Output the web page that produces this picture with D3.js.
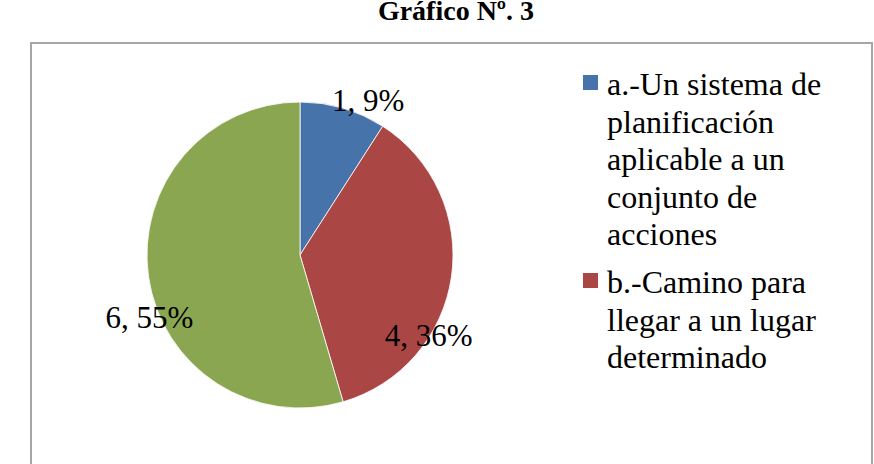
<!DOCTYPE html>
<html>
<head>
<meta charset="utf-8">
<script src="https://cdn.jsdelivr.net/npm/d3@7"></script>
<style>
  html, body { margin: 0; padding: 0; background: #fff; }
  svg { display: block; }
</style>
</head>
<body>
<div id="chart"></div>
<script>
// chart data
const title = 'Gráfico Nº. 3';
const categories = ['a', 'b', 'c'];
const counts = [1, 4, 6];
const percents = ['9%', '36%', '55%'];
// legend text, already wrapped as in the original (third entry does not fit)
const legendLines = [
    ['a.-Un sistema de', 'planificación', 'aplicable a un', 'conjunto de', 'acciones'],
    ['b.-Camino para', 'llegar a un lugar', 'determinado']
];

const colors = ['#4674aa', '#aa4644', '#8ba650'];
// label nudges from the slice centroid (best fit placement)
const labelNudge = [[23, 10], [0, 72], [-22, 54]];

const font = "'Liberation Serif', 'Times New Roman', Times, 'DejaVu Serif', serif";
const width = 874, height = 464;
const cx = 300, cy = 255, radius = 153;

const svg = d3.select('#chart').append('svg')
    .attr('width', width)
    .attr('height', height)
    .attr('font-family', font);

svg.append('text')
    .attr('x', 456)
    .attr('y', 20)
    .attr('text-anchor', 'middle')
    .attr('font-family', font)
    .attr('font-weight', 'bold')
    .attr('font-size', 28)
    .attr('fill', '#000')
    .text(title);

// chart area border
svg.append('rect')
    .attr('x', 31)
    .attr('y', 43)
    .attr('width', 841)
    .attr('height', 440)
    .attr('fill', 'none')
    .attr('stroke', '#a6a6a6')
    .attr('stroke-width', 2);

const pie = d3.pie().sort(null).value(d => d.value);
const data = categories.map((c, i) => ({ cat: c, value: counts[i], pct: percents[i], i }));
const arcs = pie(data);

const arc = d3.arc().innerRadius(0).outerRadius(radius);
const labelArc = d3.arc().innerRadius(radius * 0.85).outerRadius(radius * 0.85);
// the blue label sits outside the pie, so use a larger radius for it
const outerLabelArc = d3.arc().innerRadius(radius + 7).outerRadius(radius + 7);

const g = svg.append('g').attr('transform', `translate(${cx}, ${cy})`);

g.selectAll('path.slice')
    .data(arcs)
    .enter().append('path')
    .attr('class', 'slice')
    .attr('d', arc)
    .attr('fill', d => colors[d.data.i])
    .attr('stroke', '#fff')
    .attr('stroke-width', 0.8);

g.selectAll('text.lbl')
    .data(arcs)
    .enter().append('text')
    .attr('class', 'lbl')
    .attr('x', d => (d.data.i === 0 ? outerLabelArc : labelArc).centroid(d)[0] + labelNudge[d.data.i][0])
    .attr('y', d => (d.data.i === 0 ? outerLabelArc : labelArc).centroid(d)[1] + labelNudge[d.data.i][1])
    .attr('text-anchor', 'middle')
    .attr('font-family', font)
    .attr('font-size', 31)
    .attr('fill', '#000')
    .text(d => `${d.data.value}, ${d.data.pct}`);

// legend
const legend = svg.append('g').attr('transform', 'translate(583, 95)');
const lineH = 37.5, entryGap = 10.5;
let yOff = 0;
legendLines.forEach((lines, i) => {
    const item = legend.append('g').attr('transform', `translate(0, ${yOff})`);
    item.append('rect')
        .attr('x', 0)
        .attr('y', -20)
        .attr('width', 15)
        .attr('height', 15)
        .attr('fill', colors[i]);
    const t = item.append('text')
        .attr('font-family', font)
        .attr('font-size', 32)
        .attr('fill', '#000');
    lines.forEach((ln, j) => {
        t.append('tspan')
            .attr('x', 24)
            .attr('y', j * lineH)
            .text(ln);
    });
    yOff += lines.length * lineH + entryGap;
});
</script>
</body>
</html>
